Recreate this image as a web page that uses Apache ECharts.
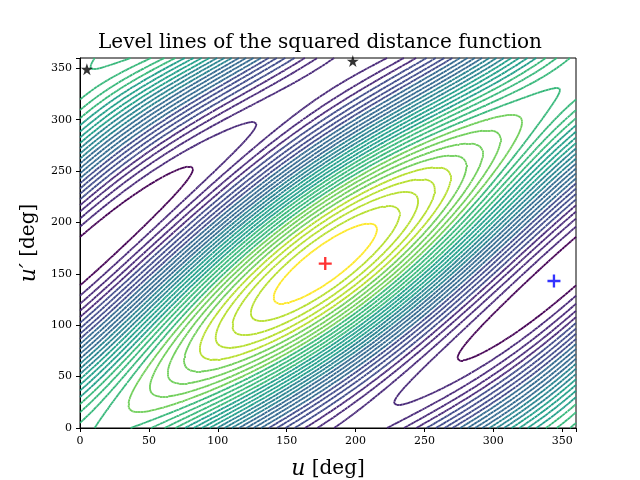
<!DOCTYPE html>
<html>
<head>
<meta charset="utf-8">
<script src="https://cdn.jsdelivr.net/npm/echarts@6/dist/echarts.min.js"></script>
<style>html,body{margin:0;background:#fff}#c{width:640px;height:480px}</style>
</head>
<body>
<div id="c"></div>
<script>
// tick labels and markers
var ticks = [0, 50, 100, 150, 200, 250, 300, 350];
var maxPoint = [[178, 160]];
var minPoint = [[344, 143]];
var stars = [[5, 349], [198, 357]];
var levelCount = 34;
// weights of the distance field (diagonal term, u term, u' term)
var weights = [2.2, 0.5, 0.3];
var phases = [18, 178, 160];

var viridis = ["#440154", "#482878", "#3e4989", "#31688e", "#26828e", "#1f9e89", "#35b779", "#6ece58", "#b5de2b", "#fde725"];

function field(u, v) {
  var r = Math.PI / 180;
  return weights[0] * (1 + Math.cos((u - v - phases[0]) * r)) +
    weights[1] * (1 + Math.cos((u - phases[1]) * r)) +
    weights[2] * (1 + Math.cos((v - phases[2]) * r));
}

var step = 2, n = 360 / step + 1;
var grid = [], fmin = Infinity, fmax = -Infinity;
for (var i = 0; i < n; i++) {
  grid.push([]);
  for (var j = 0; j < n; j++) {
    var f = field(i * step, j * step);
    grid[i].push(f);
    if (f < fmin) fmin = f;
    if (f > fmax) fmax = f;
  }
}

function colorAt(t) {
  var k = Math.min(viridis.length - 1, Math.round(t * (viridis.length - 1)));
  return viridis[k];
}

function contour(level) {
  var segs = [];
  for (var i = 0; i < n - 1; i++) {
    for (var j = 0; j < n - 1; j++) {
      var x0 = i * step, y0 = j * step;
      var c = [[x0, y0, grid[i][j]], [x0 + step, y0, grid[i + 1][j]],
               [x0 + step, y0 + step, grid[i + 1][j + 1]], [x0, y0 + step, grid[i][j + 1]]];
      var pts = [];
      for (var e = 0; e < 4; e++) {
        var a = c[e], b = c[(e + 1) % 4];
        if ((a[2] >= level) !== (b[2] >= level)) {
          var t = (level - a[2]) / (b[2] - a[2]);
          pts.push([a[0] + t * (b[0] - a[0]), a[1] + t * (b[1] - a[1])]);
        }
      }
      if (pts.length === 2) segs.push({coords: [pts[0], pts[1]]});
      else if (pts.length === 4) {
        segs.push({coords: [pts[0], pts[1]]});
        segs.push({coords: [pts[2], pts[3]]});
      }
    }
  }
  return segs;
}

var series = [];
for (var k = 1; k < levelCount; k++) {
  var t = k / levelCount;
  var level = fmin + t * (fmax - fmin);
  series.push({
    type: "lines",
    coordinateSystem: "cartesian2d",
    data: contour(level),
    lineStyle: {color: colorAt(t), width: 1.8, opacity: 1},
    silent: true,
    z: 2
  });
}

var plus = "path://M4.1,0H5.9V4.1H10V5.9H5.9V10H4.1V5.9H0V4.1H4.1Z";
var star = "path://M5,0L6.2,3.6H10L6.9,5.9L8.1,9.5L5,7.3L1.9,9.5L3.1,5.9L0,3.6H3.8Z";
series.push(
  {type: "scatter", data: maxPoint, symbol: plus, symbolSize: 13, itemStyle: {color: "#ff0000"}, z: 5},
  {type: "scatter", data: minPoint, symbol: plus, symbolSize: 13, itemStyle: {color: "#0000ff"}, z: 5},
  {type: "scatter", data: stars, symbol: star, symbolSize: 12, itemStyle: {color: "#000"}, z: 5, clip: false}
);

var chart = echarts.init(document.getElementById("c"));
var axisCommon = {
  type: "value", min: 0, max: 360, interval: 50,
  axisLine: {show: true, lineStyle: {color: "#000", width: 1}},
  axisTick: {show: true, inside: false, length: 4, lineStyle: {color: "#000"}},
  axisLabel: {color: "#000", fontFamily: "DejaVu Serif", fontSize: 11,
    formatter: function (v) { return ticks.indexOf(v) >= 0 ? v : ""; }},
  splitLine: {show: false},
  nameLocation: "middle",
  nameTextStyle: {color: "#000", fontFamily: "DejaVu Serif", fontSize: 20,
    rich: {i: {fontStyle: "italic", fontFamily: "DejaVu Serif", fontSize: 22, color: "#000"}}}
};
chart.setOption({
  animation: false,
  title: {text: "Level lines of the squared distance function", left: "center", top: 28,
    textStyle: {fontFamily: "DejaVu Serif", fontWeight: "normal", fontSize: 20, color: "#000"}},
  grid: {left: 80, right: 64, top: 58, bottom: 52, show: true, borderColor: "#000", borderWidth: 1,
    outerBoundsMode: "none"},
  xAxis: Object.assign({}, axisCommon, {name: "{i|u} [deg]", nameGap: 30}),
  yAxis: Object.assign({}, axisCommon, {name: "{i|u′} [deg]", nameGap: 40}),
  series: series
});
</script>
</body>
</html>
